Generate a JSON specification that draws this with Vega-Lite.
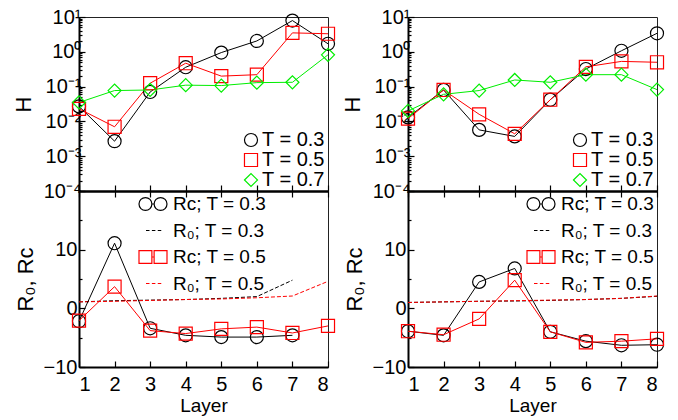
{
  "$schema": "https://vega.github.io/schema/vega-lite/v6.json",
  "background": "white",
  "padding": {"left": 11, "top": 6, "right": 0, "bottom": 0},
  "config": {
    "font": "Liberation Sans",
    "view": {"stroke": "#222", "strokeWidth": 1},
    "axis": {"grid": false, "domainColor": "#000", "domainWidth": 2, "tickColor": "#000", "tickWidth": 1.2, "labelColor": "#000", "titleColor": "#000", "labelFont": "Liberation Sans", "titleFont": "Liberation Sans", "labelFontSize": 20, "titleFontSize": 22, "titleFontWeight": "normal"},
    "legend": {"labelFont": "Liberation Sans", "labelColor": "#000", "symbolStrokeWidth": 1.2, "padding": 0}
  },
  "datasets": {
    "hL": [
      {"layer": 1, "T": "0.3", "H": 0.027}, {"layer": 2, "T": "0.3", "H": 0.0027}, {"layer": 3, "T": "0.3", "H": 0.07}, {"layer": 4, "T": "0.3", "H": 0.36},
      {"layer": 5, "T": "0.3", "H": 0.95}, {"layer": 6, "T": "0.3", "H": 2.05}, {"layer": 7, "T": "0.3", "H": 7.9}, {"layer": 8, "T": "0.3", "H": 1.7},
      {"layer": 1, "T": "0.5", "H": 0.023}, {"layer": 2, "T": "0.5", "H": 0.007}, {"layer": 3, "T": "0.5", "H": 0.125}, {"layer": 4, "T": "0.5", "H": 0.47},
      {"layer": 5, "T": "0.5", "H": 0.2}, {"layer": 6, "T": "0.5", "H": 0.22}, {"layer": 7, "T": "0.5", "H": 3.5}, {"layer": 8, "T": "0.5", "H": 3.3},
      {"layer": 1, "T": "0.7", "H": 0.035}, {"layer": 2, "T": "0.7", "H": 0.077}, {"layer": 3, "T": "0.7", "H": 0.08}, {"layer": 4, "T": "0.7", "H": 0.11},
      {"layer": 5, "T": "0.7", "H": 0.107}, {"layer": 6, "T": "0.7", "H": 0.13}, {"layer": 7, "T": "0.7", "H": 0.133}, {"layer": 8, "T": "0.7", "H": 0.82}
    ],
    "hR": [
      {"layer": 1, "T": "0.3", "H": 0.013}, {"layer": 2, "T": "0.3", "H": 0.08}, {"layer": 3, "T": "0.3", "H": 0.0057}, {"layer": 4, "T": "0.3", "H": 0.0037},
      {"layer": 5, "T": "0.3", "H": 0.042}, {"layer": 6, "T": "0.3", "H": 0.32}, {"layer": 7, "T": "0.3", "H": 1.07}, {"layer": 8, "T": "0.3", "H": 3.4},
      {"layer": 1, "T": "0.5", "H": 0.012}, {"layer": 2, "T": "0.5", "H": 0.08}, {"layer": 3, "T": "0.5", "H": 0.016}, {"layer": 4, "T": "0.5", "H": 0.0044},
      {"layer": 5, "T": "0.5", "H": 0.042}, {"layer": 6, "T": "0.5", "H": 0.37}, {"layer": 7, "T": "0.5", "H": 0.53}, {"layer": 8, "T": "0.5", "H": 0.5},
      {"layer": 1, "T": "0.7", "H": 0.02}, {"layer": 2, "T": "0.7", "H": 0.06}, {"layer": 3, "T": "0.7", "H": 0.077}, {"layer": 4, "T": "0.7", "H": 0.155},
      {"layer": 5, "T": "0.7", "H": 0.133}, {"layer": 6, "T": "0.7", "H": 0.22}, {"layer": 7, "T": "0.7", "H": 0.22}, {"layer": 8, "T": "0.7", "H": 0.082}
    ],
    "rL": [
      {"layer": 1, "series": "Rc; T = 0.3", "value": -2.2}, {"layer": 2, "series": "Rc; T = 0.3", "value": 11.1}, {"layer": 3, "series": "Rc; T = 0.3", "value": -3.4}, {"layer": 4, "series": "Rc; T = 0.3", "value": -4.6},
      {"layer": 5, "series": "Rc; T = 0.3", "value": -4.9}, {"layer": 6, "series": "Rc; T = 0.3", "value": -4.9}, {"layer": 7, "series": "Rc; T = 0.3", "value": -4.6},
      {"layer": 1, "series": "Rc; T = 0.5", "value": -2.1}, {"layer": 2, "series": "Rc; T = 0.5", "value": 3.7}, {"layer": 3, "series": "Rc; T = 0.5", "value": -3.8}, {"layer": 4, "series": "Rc; T = 0.5", "value": -4.3},
      {"layer": 5, "series": "Rc; T = 0.5", "value": -3.5}, {"layer": 6, "series": "Rc; T = 0.5", "value": -3.2}, {"layer": 7, "series": "Rc; T = 0.5", "value": -4.2}, {"layer": 8, "series": "Rc; T = 0.5", "value": -3.0},
      {"layer": 1, "series": "R₀; T = 0.3", "value": 1.1}, {"layer": 2, "series": "R₀; T = 0.3", "value": 1.3}, {"layer": 3, "series": "R₀; T = 0.3", "value": 1.4}, {"layer": 4, "series": "R₀; T = 0.3", "value": 1.5},
      {"layer": 5, "series": "R₀; T = 0.3", "value": 1.7}, {"layer": 6, "series": "R₀; T = 0.3", "value": 2.0}, {"layer": 7, "series": "R₀; T = 0.3", "value": 4.8},
      {"layer": 1, "series": "R₀; T = 0.5", "value": 1.1}, {"layer": 2, "series": "R₀; T = 0.5", "value": 1.2}, {"layer": 3, "series": "R₀; T = 0.5", "value": 1.35}, {"layer": 4, "series": "R₀; T = 0.5", "value": 1.5},
      {"layer": 5, "series": "R₀; T = 0.5", "value": 1.6}, {"layer": 6, "series": "R₀; T = 0.5", "value": 1.8}, {"layer": 7, "series": "R₀; T = 0.5", "value": 2.1}, {"layer": 8, "series": "R₀; T = 0.5", "value": 4.6}
    ],
    "rR": [
      {"layer": 1, "series": "Rc; T = 0.3", "value": -3.9}, {"layer": 2, "series": "Rc; T = 0.3", "value": -4.6}, {"layer": 3, "series": "Rc; T = 0.3", "value": 4.5}, {"layer": 4, "series": "Rc; T = 0.3", "value": 6.8},
      {"layer": 5, "series": "Rc; T = 0.3", "value": -4.0}, {"layer": 6, "series": "Rc; T = 0.3", "value": -5.6}, {"layer": 7, "series": "Rc; T = 0.3", "value": -6.3}, {"layer": 8, "series": "Rc; T = 0.3", "value": -6.2},
      {"layer": 1, "series": "Rc; T = 0.5", "value": -3.9}, {"layer": 2, "series": "Rc; T = 0.5", "value": -4.5}, {"layer": 3, "series": "Rc; T = 0.5", "value": -1.8}, {"layer": 4, "series": "Rc; T = 0.5", "value": 4.8},
      {"layer": 5, "series": "Rc; T = 0.5", "value": -4.0}, {"layer": 6, "series": "Rc; T = 0.5", "value": -5.8}, {"layer": 7, "series": "Rc; T = 0.5", "value": -5.6}, {"layer": 8, "series": "Rc; T = 0.5", "value": -5.2},
      {"layer": 1, "series": "R₀; T = 0.3", "value": 1.0}, {"layer": 2, "series": "R₀; T = 0.3", "value": 1.1}, {"layer": 3, "series": "R₀; T = 0.3", "value": 1.2}, {"layer": 4, "series": "R₀; T = 0.3", "value": 1.25},
      {"layer": 5, "series": "R₀; T = 0.3", "value": 1.35}, {"layer": 6, "series": "R₀; T = 0.3", "value": 1.5}, {"layer": 7, "series": "R₀; T = 0.3", "value": 1.7}, {"layer": 8, "series": "R₀; T = 0.3", "value": 2.05},
      {"layer": 1, "series": "R₀; T = 0.5", "value": 1.0}, {"layer": 2, "series": "R₀; T = 0.5", "value": 1.1}, {"layer": 3, "series": "R₀; T = 0.5", "value": 1.2}, {"layer": 4, "series": "R₀; T = 0.5", "value": 1.3},
      {"layer": 5, "series": "R₀; T = 0.5", "value": 1.4}, {"layer": 6, "series": "R₀; T = 0.5", "value": 1.5}, {"layer": 7, "series": "R₀; T = 0.5", "value": 1.7}, {"layer": 8, "series": "R₀; T = 0.5", "value": 2.1}
    ]
  },
  "spacing": 2,
  "resolve": {"scale": {"color": "independent", "shape": "independent", "y": "independent"}, "legend": {"color": "independent", "shape": "independent"}},
  "hconcat": [
    {
      "spacing": 0,
      "bounds": "flush",
      "resolve": {"scale": {"color": "independent", "shape": "independent", "y": "independent"}, "legend": {"color": "independent", "shape": "independent"}},
      "vconcat": [
        {
          "width": 249, "height": 174,
          "data": {"name": "hL"},
          "resolve": {"axis": {"x": "independent", "y": "independent"}},
          "layer": [
            {
              "mark": {"type": "line", "strokeWidth": 1},
              "encoding": {
                "x": {"field": "layer", "type": "quantitative", "scale": {"domain": [1, 8], "nice": false, "zero": false}, "axis": {"orient": "bottom", "values": [1, 2, 3, 4, 5, 6, 7, 8], "labels": false, "tickSize": -6, "title": null}},
                "y": {"field": "H", "type": "quantitative", "scale": {"type": "log", "domain": [0.0001, 10], "nice": false}, "axis": {"values": [0.0001, 0.001, 0.01, 0.1, 1, 10], "tickSize": -6, "labelPadding": 4, "labelExpr": "'10' + ['⁻⁴','⁻³','⁻²','⁻¹','⁰','¹'][round(log(datum.value)/LN10)+4]", "title": "H", "titlePadding": 8}},
                "color": {"field": "T", "type": "nominal", "scale": {"domain": ["0.3", "0.5", "0.7"], "range": ["#000000", "#ff0000", "#00ee00"]}, "legend": {"orient": "none", "legendX": 162, "legendY": 113, "title": null, "symbolSize": 170, "labelFontSize": 20, "labelOffset": 1, "rowPadding": -2, "labelExpr": "'T = ' + datum.label"}}
              }
            },
            {
              "mark": {"type": "point", "filled": false, "size": 170, "strokeWidth": 1.2, "opacity": 1},
              "encoding": {
                "x": {"field": "layer", "type": "quantitative", "scale": {"domain": [1, 8], "nice": false, "zero": false}, "axis": null},
                "y": {"field": "H", "type": "quantitative", "scale": {"type": "log", "domain": [0.0001, 10], "nice": false}, "axis": {"orient": "left", "values": [0.0002, 0.0003, 0.0004, 0.0005, 0.0006, 0.0007, 0.0008, 0.0009, 0.002, 0.003, 0.004, 0.005, 0.006, 0.007, 0.008, 0.009, 0.02, 0.03, 0.04, 0.05, 0.06, 0.07, 0.08, 0.09, 0.2, 0.3, 0.4, 0.5, 0.6, 0.7, 0.8, 0.9, 2, 3, 4, 5, 6, 7, 8, 9], "tickSize": -3, "labels": false, "domain": false, "title": null}},
                "color": {"field": "T", "type": "nominal", "scale": {"domain": ["0.3", "0.5", "0.7"], "range": ["#000000", "#ff0000", "#00ee00"]}, "legend": {"orient": "none", "legendX": 162, "legendY": 113, "title": null, "symbolSize": 170, "labelFontSize": 20, "labelOffset": 1, "rowPadding": -2, "labelExpr": "'T = ' + datum.label"}},
                "shape": {"field": "T", "type": "nominal", "scale": {"domain": ["0.3", "0.5", "0.7"], "range": ["circle", "square", "diamond"]}, "legend": {"orient": "none", "legendX": 162, "legendY": 113, "title": null, "symbolSize": 170, "labelFontSize": 20, "labelOffset": 1, "rowPadding": -2, "labelExpr": "'T = ' + datum.label"}}
              }
            }
          ]
        },
        {
          "width": 249, "height": 176,
          "data": {"name": "rL"},
          "resolve": {"axis": {"x": "independent", "y": "independent"}},
          "layer": [
            {
              "transform": [{"filter": {"field": "series", "equal": "R₀; T = 0.3"}}],
              "mark": {"type": "line", "strokeWidth": 1, "color": "#000000", "strokeDash": [4, 2]},
              "encoding": {
                "x": {"field": "layer", "type": "quantitative", "scale": {"domain": [1, 8], "nice": false, "zero": false}, "axis": {"orient": "bottom", "values": [1, 2, 3, 4, 5, 6, 7, 8], "tickSize": -6, "labelPadding": 13, "title": "Layer", "titleFontSize": 19, "titlePadding": 2}},
                "y": {"field": "value", "type": "quantitative", "scale": {"domain": [-10, 20], "nice": false, "zero": false}, "axis": {"values": [-10, 0, 10, 20], "labelExpr": "datum.value == 20 ? '' : datum.label", "tickSize": -6, "labelPadding": 8, "title": "R₀, Rc", "titlePadding": 6}}
              }
            },
            {
              "transform": [{"filter": {"field": "series", "equal": "R₀; T = 0.5"}}],
              "mark": {"type": "line", "strokeWidth": 1, "color": "#ff0000", "strokeDash": [4, 2]},
              "encoding": {
                "x": {"field": "layer", "type": "quantitative", "scale": {"domain": [1, 8], "nice": false, "zero": false}, "axis": {"orient": "top", "values": [1, 2, 3, 4, 5, 6, 7, 8], "tickSize": -6, "labels": false, "title": null}},
                "y": {"field": "value", "type": "quantitative", "scale": {"domain": [-10, 20], "nice": false, "zero": false}, "axis": {"orient": "left", "values": [-5, 5, 15], "tickSize": -3, "labels": false, "domain": false, "title": null}}
              }
            },
            {
              "transform": [{"filter": {"field": "series", "equal": "Rc; T = 0.3"}}],
              "mark": {"type": "line", "strokeWidth": 1, "color": "#000000"},
              "encoding": {"x": {"field": "layer", "type": "quantitative", "axis": null}, "y": {"field": "value", "type": "quantitative", "axis": null}}
            },
            {
              "transform": [{"filter": {"field": "series", "equal": "Rc; T = 0.3"}}],
              "mark": {"type": "point", "shape": "circle", "filled": false, "size": 170, "strokeWidth": 1.2, "opacity": 1, "color": "#000000"},
              "encoding": {"x": {"field": "layer", "type": "quantitative", "axis": null}, "y": {"field": "value", "type": "quantitative", "axis": null}}
            },
            {
              "transform": [{"filter": {"field": "series", "equal": "Rc; T = 0.5"}}],
              "mark": {"type": "line", "strokeWidth": 1, "color": "#ff0000"},
              "encoding": {"x": {"field": "layer", "type": "quantitative", "axis": null}, "y": {"field": "value", "type": "quantitative", "axis": null}}
            },
            {
              "transform": [{"filter": {"field": "series", "equal": "Rc; T = 0.5"}}],
              "mark": {"type": "point", "shape": "square", "filled": false, "size": 170, "strokeWidth": 1.2, "opacity": 1, "color": "#ff0000"},
              "encoding": {"x": {"field": "layer", "type": "quantitative", "axis": null}, "y": {"field": "value", "type": "quantitative", "axis": null}}
            },
            {
              "mark": {"type": "point", "filled": false, "opacity": 0},
              "encoding": {
                "x": {"field": "layer", "type": "quantitative", "axis": null},
                "y": {"field": "value", "type": "quantitative", "axis": null},
                "color": {"field": "series", "type": "nominal", "scale": {"domain": ["Rc; T = 0.3", "R₀; T = 0.3", "Rc; T = 0.5", "R₀; T = 0.5"], "range": ["#000000", "#000000", "#ff0000", "#ff0000"]}, "legend": {"orient": "none", "legendX": 59, "legendY": -2, "title": null, "symbolSize": 784, "labelFontSize": 19, "labelOffset": 5, "rowPadding": 1.5, "symbolOpacity": 1}},
                "shape": {"field": "series", "type": "nominal", "scale": {"domain": ["Rc; T = 0.3", "R₀; T = 0.3", "Rc; T = 0.5", "R₀; T = 0.5"], "range": ["M-0.08,0A0.46,0.46,0,1,1,-1,0A0.46,0.46,0,1,1,-0.08,0ZM-0.08,0L0.08,0M0.08,0A0.46,0.46,0,1,1,1,0A0.46,0.46,0,1,1,0.08,0Z", "M-0.5,0L-0.25,0M-0.08,0L0.17,0M0.34,0L0.59,0", "M-1,-0.46L-0.08,-0.46L-0.08,0.46L-1,0.46ZM-0.08,0L0.08,0M0.08,-0.46L1,-0.46L1,0.46L0.08,0.46Z", "M-0.5,0L-0.25,0M-0.08,0L0.17,0M0.34,0L0.59,0"]}, "legend": {"orient": "none", "legendX": 59, "legendY": -2, "title": null, "symbolSize": 784, "labelFontSize": 19, "labelOffset": 5, "rowPadding": 1.5, "symbolOpacity": 1}}
              }
            }
          ]
        }
      ]
    },
    {
      "spacing": 0,
      "bounds": "flush",
      "resolve": {"scale": {"color": "independent", "shape": "independent", "y": "independent"}, "legend": {"color": "independent", "shape": "independent"}},
      "vconcat": [
        {
          "width": 249, "height": 174,
          "data": {"name": "hR"},
          "resolve": {"axis": {"x": "independent", "y": "independent"}},
          "layer": [
            {
              "mark": {"type": "line", "strokeWidth": 1},
              "encoding": {
                "x": {"field": "layer", "type": "quantitative", "scale": {"domain": [1, 8], "nice": false, "zero": false}, "axis": {"orient": "bottom", "values": [1, 2, 3, 4, 5, 6, 7, 8], "labels": false, "tickSize": -6, "title": null}},
                "y": {"field": "H", "type": "quantitative", "scale": {"type": "log", "domain": [0.0001, 10], "nice": false}, "axis": {"values": [0.0001, 0.001, 0.01, 0.1, 1, 10], "tickSize": -6, "labelPadding": 4, "labelExpr": "'10' + ['⁻⁴','⁻³','⁻²','⁻¹','⁰','¹'][round(log(datum.value)/LN10)+4]", "title": "H", "titlePadding": 8}},
                "color": {"field": "T", "type": "nominal", "scale": {"domain": ["0.3", "0.5", "0.7"], "range": ["#000000", "#ff0000", "#00ee00"]}, "legend": {"orient": "none", "legendX": 162, "legendY": 113, "title": null, "symbolSize": 170, "labelFontSize": 20, "labelOffset": 1, "rowPadding": -2, "labelExpr": "'T = ' + datum.label"}}
              }
            },
            {
              "mark": {"type": "point", "filled": false, "size": 170, "strokeWidth": 1.2, "opacity": 1},
              "encoding": {
                "x": {"field": "layer", "type": "quantitative", "scale": {"domain": [1, 8], "nice": false, "zero": false}, "axis": null},
                "y": {"field": "H", "type": "quantitative", "scale": {"type": "log", "domain": [0.0001, 10], "nice": false}, "axis": {"orient": "left", "values": [0.0002, 0.0003, 0.0004, 0.0005, 0.0006, 0.0007, 0.0008, 0.0009, 0.002, 0.003, 0.004, 0.005, 0.006, 0.007, 0.008, 0.009, 0.02, 0.03, 0.04, 0.05, 0.06, 0.07, 0.08, 0.09, 0.2, 0.3, 0.4, 0.5, 0.6, 0.7, 0.8, 0.9, 2, 3, 4, 5, 6, 7, 8, 9], "tickSize": -3, "labels": false, "domain": false, "title": null}},
                "color": {"field": "T", "type": "nominal", "scale": {"domain": ["0.3", "0.5", "0.7"], "range": ["#000000", "#ff0000", "#00ee00"]}, "legend": {"orient": "none", "legendX": 162, "legendY": 113, "title": null, "symbolSize": 170, "labelFontSize": 20, "labelOffset": 1, "rowPadding": -2, "labelExpr": "'T = ' + datum.label"}},
                "shape": {"field": "T", "type": "nominal", "scale": {"domain": ["0.3", "0.5", "0.7"], "range": ["circle", "square", "diamond"]}, "legend": {"orient": "none", "legendX": 162, "legendY": 113, "title": null, "symbolSize": 170, "labelFontSize": 20, "labelOffset": 1, "rowPadding": -2, "labelExpr": "'T = ' + datum.label"}}
              }
            }
          ]
        },
        {
          "width": 249, "height": 176,
          "data": {"name": "rR"},
          "resolve": {"axis": {"x": "independent", "y": "independent"}},
          "layer": [
            {
              "transform": [{"filter": {"field": "series", "equal": "R₀; T = 0.3"}}],
              "mark": {"type": "line", "strokeWidth": 1, "color": "#000000", "strokeDash": [4, 2]},
              "encoding": {
                "x": {"field": "layer", "type": "quantitative", "scale": {"domain": [1, 8], "nice": false, "zero": false}, "axis": {"orient": "bottom", "values": [1, 2, 3, 4, 5, 6, 7, 8], "tickSize": -6, "labelPadding": 13, "title": "Layer", "titleFontSize": 19, "titlePadding": 2}},
                "y": {"field": "value", "type": "quantitative", "scale": {"domain": [-10, 20], "nice": false, "zero": false}, "axis": {"values": [-10, 0, 10, 20], "labelExpr": "datum.value == 20 ? '' : datum.label", "tickSize": -6, "labelPadding": 8, "title": "R₀, Rc", "titlePadding": 6}}
              }
            },
            {
              "transform": [{"filter": {"field": "series", "equal": "R₀; T = 0.5"}}],
              "mark": {"type": "line", "strokeWidth": 1, "color": "#ff0000", "strokeDash": [4, 2]},
              "encoding": {
                "x": {"field": "layer", "type": "quantitative", "scale": {"domain": [1, 8], "nice": false, "zero": false}, "axis": {"orient": "top", "values": [1, 2, 3, 4, 5, 6, 7, 8], "tickSize": -6, "labels": false, "title": null}},
                "y": {"field": "value", "type": "quantitative", "scale": {"domain": [-10, 20], "nice": false, "zero": false}, "axis": {"orient": "left", "values": [-5, 5, 15], "tickSize": -3, "labels": false, "domain": false, "title": null}}
              }
            },
            {
              "transform": [{"filter": {"field": "series", "equal": "Rc; T = 0.3"}}],
              "mark": {"type": "line", "strokeWidth": 1, "color": "#000000"},
              "encoding": {"x": {"field": "layer", "type": "quantitative", "axis": null}, "y": {"field": "value", "type": "quantitative", "axis": null}}
            },
            {
              "transform": [{"filter": {"field": "series", "equal": "Rc; T = 0.3"}}],
              "mark": {"type": "point", "shape": "circle", "filled": false, "size": 170, "strokeWidth": 1.2, "opacity": 1, "color": "#000000"},
              "encoding": {"x": {"field": "layer", "type": "quantitative", "axis": null}, "y": {"field": "value", "type": "quantitative", "axis": null}}
            },
            {
              "transform": [{"filter": {"field": "series", "equal": "Rc; T = 0.5"}}],
              "mark": {"type": "line", "strokeWidth": 1, "color": "#ff0000"},
              "encoding": {"x": {"field": "layer", "type": "quantitative", "axis": null}, "y": {"field": "value", "type": "quantitative", "axis": null}}
            },
            {
              "transform": [{"filter": {"field": "series", "equal": "Rc; T = 0.5"}}],
              "mark": {"type": "point", "shape": "square", "filled": false, "size": 170, "strokeWidth": 1.2, "opacity": 1, "color": "#ff0000"},
              "encoding": {"x": {"field": "layer", "type": "quantitative", "axis": null}, "y": {"field": "value", "type": "quantitative", "axis": null}}
            },
            {
              "mark": {"type": "point", "filled": false, "opacity": 0},
              "encoding": {
                "x": {"field": "layer", "type": "quantitative", "axis": null},
                "y": {"field": "value", "type": "quantitative", "axis": null},
                "color": {"field": "series", "type": "nominal", "scale": {"domain": ["Rc; T = 0.3", "R₀; T = 0.3", "Rc; T = 0.5", "R₀; T = 0.5"], "range": ["#000000", "#000000", "#ff0000", "#ff0000"]}, "legend": {"orient": "none", "legendX": 118, "legendY": -2, "title": null, "symbolSize": 784, "labelFontSize": 19, "labelOffset": 5, "rowPadding": 1.5, "symbolOpacity": 1}},
                "shape": {"field": "series", "type": "nominal", "scale": {"domain": ["Rc; T = 0.3", "R₀; T = 0.3", "Rc; T = 0.5", "R₀; T = 0.5"], "range": ["M-0.08,0A0.46,0.46,0,1,1,-1,0A0.46,0.46,0,1,1,-0.08,0ZM-0.08,0L0.08,0M0.08,0A0.46,0.46,0,1,1,1,0A0.46,0.46,0,1,1,0.08,0Z", "M-0.5,0L-0.25,0M-0.08,0L0.17,0M0.34,0L0.59,0", "M-1,-0.46L-0.08,-0.46L-0.08,0.46L-1,0.46ZM-0.08,0L0.08,0M0.08,-0.46L1,-0.46L1,0.46L0.08,0.46Z", "M-0.5,0L-0.25,0M-0.08,0L0.17,0M0.34,0L0.59,0"]}, "legend": {"orient": "none", "legendX": 118, "legendY": -2, "title": null, "symbolSize": 784, "labelFontSize": 19, "labelOffset": 5, "rowPadding": 1.5, "symbolOpacity": 1}}
              }
            }
          ]
        }
      ]
    }
  ]
}
